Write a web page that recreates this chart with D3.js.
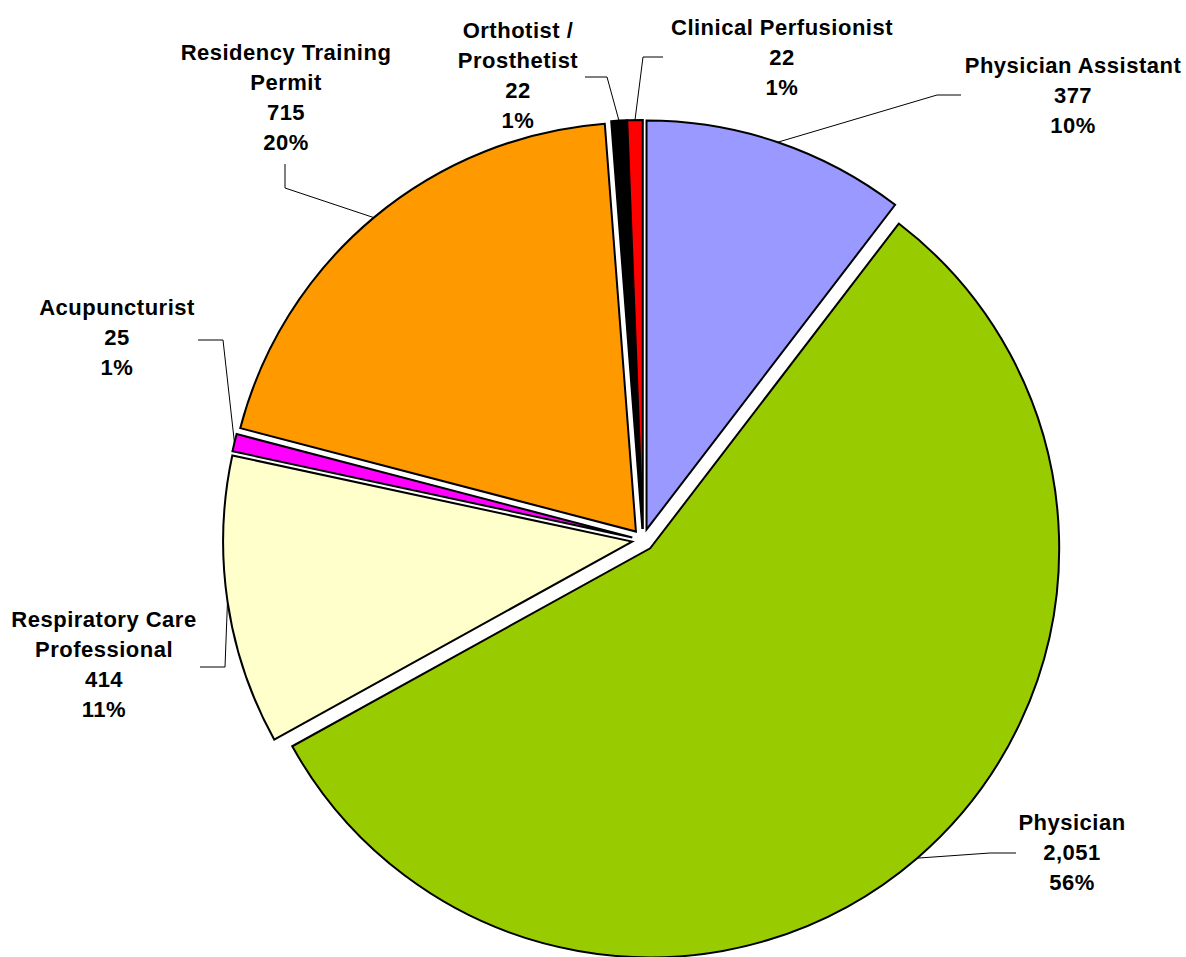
<!DOCTYPE html>
<html>
<head>
<meta charset="utf-8">
<script src="https://cdn.jsdelivr.net/npm/d3@7"></script>
<style>
  body { margin: 0; background: #fff; }
  svg { display: block; }
  .slice { stroke: #000; stroke-width: 2; stroke-linejoin: miter; }
  .leader { fill: none; stroke: #000; stroke-width: 1; }
  .label { font-family: "Liberation Sans", Arial, sans-serif; font-weight: bold; font-size: 22px; letter-spacing: 0.5px; fill: #000; }
</style>
</head>
<body>
<svg></svg>
<script>
// Data (clockwise from 12 o'clock)
const categories = [
    "Physician Assistant",
    "Physician",
    "Respiratory Care\nProfessional",
    "Acupuncturist",
    "Residency Training\nPermit",
    "Orthotist /\nProsthetist",
    "Clinical Perfusionist"
];
const values = [377, 2051, 414, 25, 715, 22, 22];
const percents = [10, 56, 11, 1, 20, 1, 1];
const colors = ["#9999FF", "#99CC00", "#FFFFCC", "#FF00FF", "#FF9900", "#000000", "#FF0000"];

const width = 1186;
const height = 957;
const cx = 643;
const cy = 540;
const radius = 409;
const explode = 11;
const lineHeight = 30;

// Where the data labels were dragged to: text centre, first baseline, leader elbow + end
const labelLayout = [
    {x: 1073, y: 73,  elbow: [937, 95],  end: [961, 95]},
    {x: 1072, y: 830, elbow: [990, 853], end: [1016, 853]},
    {x: 104,  y: 627, elbow: [225, 667], end: [200, 667]},
    {x: 117,  y: 315, elbow: [223, 340], end: [198, 340]},
    {x: 286,  y: 60,  elbow: [285, 188], end: [285, 164]},
    {x: 518,  y: 38,  elbow: [607, 77],  end: [585, 77]},
    {x: 782,  y: 35,  elbow: [643, 57],  end: [663, 57]}
];

const svg = d3.select("svg")
    .attr("width", width)
    .attr("height", height);

const pie = d3.pie().sort(null).value(d => d.value);
const arcs = pie(values.map((v, i) => ({value: v, i: i})));

const arc = d3.arc().innerRadius(0).outerRadius(radius);
const edgeArc = d3.arc().innerRadius(radius).outerRadius(radius);

// offset of each exploded slice along its mid angle
function offset(d) {
    const mid = (d.startAngle + d.endAngle) / 2;
    return [cx + explode * Math.sin(mid), cy - explode * Math.cos(mid)];
}

svg.append("g")
    .selectAll("path")
    .data(arcs)
    .join("path")
    .attr("class", "slice")
    .attr("transform", d => "translate(" + offset(d) + ")")
    .attr("fill", d => colors[d.data.i])
    .attr("d", arc);

// leader lines
svg.append("g")
    .selectAll("polyline")
    .data(arcs)
    .join("polyline")
    .attr("class", "leader")
    .attr("points", d => {
        const o = offset(d);
        const p = edgeArc.centroid(d);
        const lay = labelLayout[d.data.i];
        return [[o[0] + p[0], o[1] + p[1]], lay.elbow, lay.end].join(" ");
    });

// data labels: name, value, percent
const fmt = d3.format(",");
const labels = svg.append("g")
    .selectAll("text")
    .data(arcs)
    .join("text")
    .attr("class", "label")
    .attr("text-anchor", "middle")
    .attr("x", d => labelLayout[d.data.i].x)
    .attr("y", d => labelLayout[d.data.i].y);

labels.each(function(d) {
    const i = d.data.i;
    const lines = categories[i].split("\n").concat([fmt(values[i]), percents[i] + "%"]);
    d3.select(this).selectAll("tspan")
        .data(lines)
        .join("tspan")
        .attr("x", labelLayout[i].x)
        .attr("dy", (t, k) => k === 0 ? 0 : lineHeight)
        .text(t => t);
});
</script>
</body>
</html>
